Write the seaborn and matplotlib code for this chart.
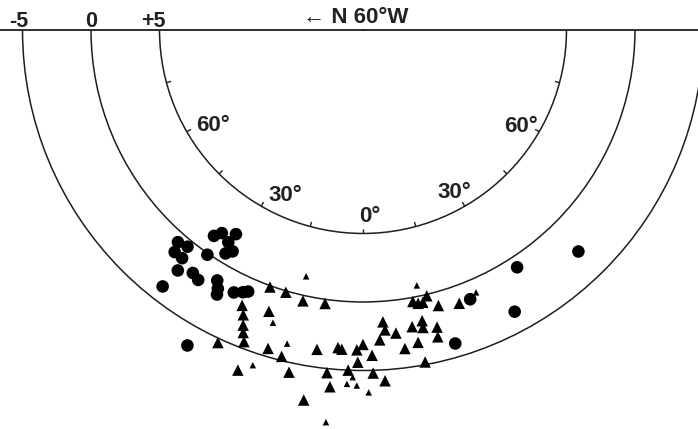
import numpy as np
import pandas as pd
import matplotlib
matplotlib.use("Agg")
import matplotlib.pyplot as plt
import matplotlib.transforms as mtransforms
import seaborn as sns

# angle from the vertical (deg, + to the right) and delay value of each event
circle_angle = [-41.1, -39.0, -40.3, -38.4, -37.6, -35.0, -33.4, -34.7, -38.0,
                -35.9, -34.8, -31.9, -32.4, -30.5, -31.6, -30.2, -29.3, -28.9,
                -26.2, -24.6, -23.7, -29.1, 21.7, 33.0, 28.3, 44.2, 16.4]
circle_value = [-0.7, -0.5, -1.4, -1.4, -2.3, -1.8, -2.0, -0.1, -3.9,
                1.3, 1.8, 2.3, 1.5, 1.1, 0.7, -1.3, -1.8, -2.2,
                -1.5, -1.2, -1.0, -6.5, -1.3, -0.8, -3.5, -2.7, -4.0]

big_tri_angle = [-24.9, -20.2, -23.7, -22.8, -22.1, -21.6, -20.9, -19.9, -16.4,
                 -12.5, -7.9, -18.5, -16.6, -14.0, -8.2, -12.2, -6.0, -4.5,
                 -3.8, 0.0, -1.1, 1.6, -0.9, -2.5, 1.7, 3.6, -5.3, -9.1,
                 3.9, 4.2, 6.2, 3.1, 9.4, 11.5, 11.4, 14.0, 13.7, 10.0, 7.5,
                 10.6, 10.4, 11.4, 12.4, 13.5, 15.3, 19.4]
big_tri_value = [-5.3, -6.6, -2.1, -2.7, -3.4, -3.9, -4.5, -0.1, -0.1,
                 -0.4, -0.3, -1.8, -4.4, -4.7, -3.7, -5.7, -5.3, -3.4,
                 -3.5, -3.1, -3.5, -3.9, -4.4, -5.0, -5.2, -5.8, -6.3, -7.5,
                 -1.5, -2.1, -2.4, -2.8, -2.1, -1.8, -2.3, -2.5, -3.2, -3.3, -3.6,
                 -4.8, -0.3, -0.5, -0.5, -0.1, -1.0, -1.3]

small_tri_angle = [-13.0, -17.1, -13.6, -18.2, -1.7, -2.6, -1.0, 0.9, -5.4, 11.9, 23.3]
small_tri_value = [1.4, -2.5, -3.7, -5.9, -5.5, -6.0, -6.1, -6.6, -8.9, 0.8, -1.0]

ring_values = [5, 0, -5]
ring_labels = ["+5", "0", "-5"]
dip_ticks = [-75, -60, -45, -30, -15, 0, 15, 30, 45, 60, 75]
dip_label_angle = [-57.4, -25.3, 2.1, 29.2, 58.7]
dip_label_r = [6.86, 6.53, 6.2, 6.23, 6.36]
dip_label_text = ["60°", "30°", "0°", "30°", "60°"]

df = pd.DataFrame({
    "angle": circle_angle + big_tri_angle + small_tri_angle,
    "value": circle_value + big_tri_value + small_tri_value,
    "kind": ["circle"] * len(circle_angle) + ["big"] * len(big_tri_angle)
            + ["small"] * len(small_tri_angle),
})
df["theta"] = np.deg2rad(df["angle"])

sns.set_style("white")
plt.rcParams["font.family"] = ["Liberation Sans", "DejaVu Sans"]

W, H = 698, 429
fig = plt.figure(figsize=(W / 100, H / 100), dpi=100)

# center of the half-disk in pixels, and radial scale
cx, cy = 363, 30
r_center = 19.85
r_outer = -9.5
R = 272 + 13.7 * (-r_outer)
ax = fig.add_axes([(cx - R) / W, (H - (cy - R / 2 + 2 * R)) / H, 2 * R / W, 2 * R / H],
                  projection="polar")
ax.set_theta_zero_location("S")
ax.set_theta_direction(1)
ax.set_thetamin(-90)
ax.set_thetamax(90)
ax.set_ylim(r_center, r_outer)

sns.scatterplot(data=df, x="theta", y="value", style="kind", size="kind",
                markers={"circle": "o", "big": "^", "small": "^"},
                sizes={"circle": 82, "big": 68, "small": 22},
                color="black", linewidth=0, legend=False, ax=ax)

line_col = "#1e1e1e"
txt_col = "#222222"
ax.set_xticks([])
ax.set_yticks(ring_values)
ax.set_yticklabels([])
ax.tick_params(length=0)
ax.yaxis.grid(True, color=line_col, lw=1.1, ls="-")
ax.set_xlabel("")
ax.set_ylabel("")
ax.spines["polar"].set_visible(False)
ax.spines["inner"].set_visible(False)
for s in ("start", "end"):
    ax.spines[s].set_color(line_col)
    ax.spines[s].set_linewidth(1.3)

# small ticks on the inner ring
ax.vlines(np.deg2rad(dip_ticks), 5, 5.35, color=line_col, lw=1.0)

for a, r, t in zip(dip_label_angle, dip_label_r, dip_label_text):
    ax.text(np.deg2rad(a), r, t, ha="center", va="center", fontsize=16,
            fontweight="bold", color=txt_col)

lab_tr = mtransforms.offset_copy(ax.transData, fig=fig, x=6, y=3, units="dots")
for v, t in zip(ring_values, ring_labels):
    ax.text(np.deg2rad(-90), v, t, ha="right", va="baseline", fontsize=15.5,
            fontweight="bold", color=txt_col, transform=lab_tr, clip_on=False)

fig.text(356 / W, (H - 23) / H, "← N 60°W", ha="center", va="baseline",
         fontsize=16, fontweight="bold", color=txt_col)

fig.savefig("out.png", dpi=100)
